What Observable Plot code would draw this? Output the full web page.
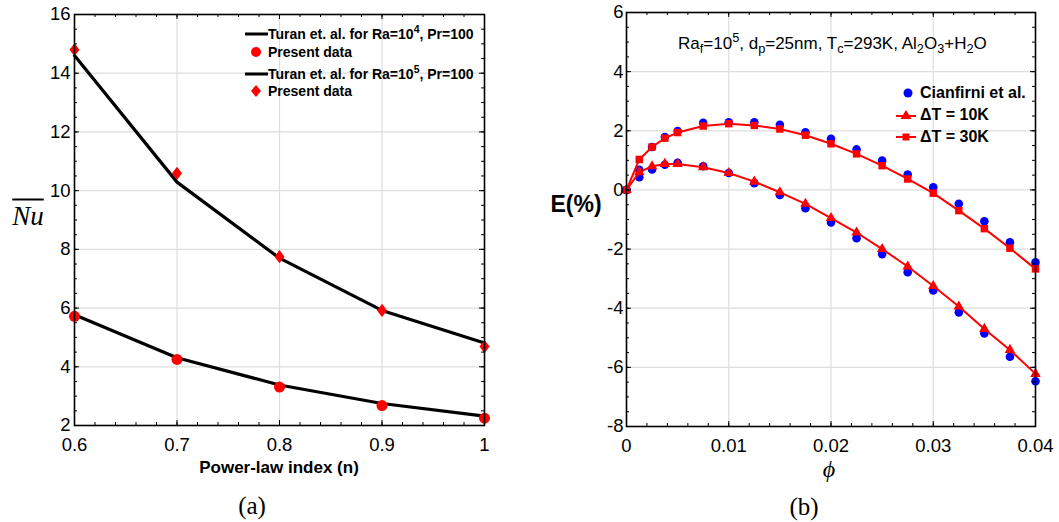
<!DOCTYPE html>
<html>
<head>
<meta charset="utf-8">
<script src="https://cdn.jsdelivr.net/npm/d3@7"></script>
<script src="https://cdn.jsdelivr.net/npm/@observablehq/plot@0.6"></script>
<style>
  html, body { margin: 0; padding: 0; background: #fff; }
  #wrap { position: relative; width: 1059px; height: 522px; overflow: hidden; font-family: 'Liberation Sans', Arial, Helvetica, sans-serif; color: #000; }
  .abs { position: absolute; white-space: nowrap; }
  .vc { transform: translateY(-50%); }
  .cc { transform: translate(-50%, -50%); }
  .leg { display: flex; align-items: center; font-weight: bold; }
  .leg svg { flex: none; }
  sup, sub { font-size: 0.75em; line-height: 0; position: relative; vertical-align: baseline; }
  sup { top: -0.55em; }
  sub { top: 0.35em; }
  .serif { font-family: 'Liberation Serif', 'DejaVu Serif', serif; }
</style>
</head>
<body>
<div id="wrap">
  <div id="pa" class="abs" style="left:0;top:0"></div>
  <div id="pb" class="abs" style="left:530px;top:0"></div>

  <!-- panel (a) labels -->
  <div class="abs cc serif" style="left:28px;top:216px;font-size:27px;font-style:italic;text-decoration:overline;">Nu</div>
  <div class="abs cc" style="left:279px;top:468px;font-size:17px;font-weight:bold;">Power-law index (n)</div>
  <div class="abs cc serif" style="left:252px;top:506px;font-size:25px;">(a)</div>

  <!-- panel (a) legend -->
  <div class="abs vc leg" style="left:245px;top:34px;font-size:14px;"><svg width="23" height="10"><line x1="0" x2="23" y1="5" y2="5" stroke="#000" stroke-width="3"/></svg><span>Turan et. al. for Ra=10<sup>4</sup>, Pr=100</span></div>
  <div class="abs vc leg" style="left:245px;top:52px;font-size:14px;"><svg width="23" height="12"><circle cx="11" cy="6" r="5" fill="#ff0000"/></svg><span>Present data</span></div>
  <div class="abs vc leg" style="left:245px;top:74px;font-size:14px;"><svg width="23" height="10"><line x1="0" x2="23" y1="5" y2="5" stroke="#000" stroke-width="3"/></svg><span>Turan et. al. for Ra=10<sup>5</sup>, Pr=100</span></div>
  <div class="abs vc leg" style="left:245px;top:91px;font-size:14px;"><svg width="23" height="14"><path d="M11,1 L16,7 L11,13 L6,7 Z" fill="#ff0000"/></svg><span>Present data</span></div>

  <!-- panel (b) labels -->
  <div class="abs cc" style="left:576px;top:204px;font-size:23px;font-weight:bold;">E(%)</div>
  <div class="abs cc serif" style="left:829px;top:469px;font-size:24px;font-style:italic;">ϕ</div>
  <div class="abs cc serif" style="left:804px;top:507px;font-size:25px;">(b)</div>
  <div class="abs vc" style="left:678px;top:44px;font-size:17px;">Ra<sub>f</sub>=10<sup>5</sup>, d<sub>p</sub>=25nm, T<sub>c</sub>=293K, Al<sub>2</sub>O<sub>3</sub>+H<sub>2</sub>O</div>

  <!-- panel (b) legend -->
  <div class="abs vc leg" style="left:896px;top:93px;font-size:16px;"><svg width="24" height="12"><circle cx="12" cy="6" r="4.5" fill="#0000ff"/></svg><span>Cianfirni et al.</span></div>
  <div class="abs vc leg" style="left:896px;top:115px;font-size:16px;"><svg width="24" height="14"><line x1="0" x2="20" y1="8" y2="8" stroke="#ff0000" stroke-width="2"/><path d="M10,2 L15.5,11 L4.5,11 Z" fill="#ff0000"/></svg><span>ΔT = 10K</span></div>
  <div class="abs vc leg" style="left:896px;top:137px;font-size:16px;"><svg width="24" height="12"><line x1="0" x2="20" y1="6" y2="6" stroke="#ff0000" stroke-width="2"/><rect x="6.5" y="2.5" width="7" height="7" fill="#ff0000"/></svg><span>ΔT = 30K</span></div>
</div>

<script>
// ---------- Panel (a) data ----------
const powerLawIndex = [0.6, 0.7, 0.8, 0.9, 1.0];
const turanRa4   = [5.77, 4.31, 3.38, 2.75, 2.32];
const presentRa4 = [5.72, 4.25, 3.31, 2.68, 2.25];
const turanRa5   = [14.60, 10.29, 7.70, 5.92, 4.81];
const presentRa5 = [14.80, 10.59, 7.75, 5.92, 4.69];
const xTicksA = [0.6, 0.7, 0.8, 0.9, 1];
const yTicksA = [2, 4, 6, 8, 10, 12, 14, 16];

// ---------- Panel (b) data ----------
const phi = [0, 0.00125, 0.0025, 0.00375, 0.005, 0.0075, 0.01, 0.0125, 0.015, 0.0175,
             0.02, 0.0225, 0.025, 0.0275, 0.03, 0.0325, 0.035, 0.0375, 0.04];
const dT10 = [0, 0.60, 0.80, 0.88, 0.88, 0.77, 0.57, 0.28, -0.08, -0.47,
              -0.95, -1.44, -2.00, -2.59, -3.25, -3.94, -4.70, -5.41, -6.22];
const dT30 = [0, 1.03, 1.45, 1.75, 1.94, 2.16, 2.24, 2.18, 2.06, 1.85,
              1.56, 1.22, 0.82, 0.37, -0.11, -0.70, -1.31, -1.97, -2.67];
const cianfirni10 = [0, 0.43, 0.69, 0.85, 0.92, 0.80, 0.57, 0.23, -0.17, -0.62,
                     -1.10, -1.63, -2.17, -2.78, -3.40, -4.14, -4.85, -5.64, -6.47];
const cianfirni30 = [0, 0.68, 1.45, 1.79, 1.99, 2.27, 2.29, 2.29, 2.20, 1.95,
                     1.73, 1.37, 0.99, 0.52, 0.09, -0.47, -1.06, -1.77, -2.45];
const xTicksB = [0, 0.01, 0.02, 0.03, 0.04];
const yTicksB = [-8, -6, -4, -2, 0, 2, 4, 6];

const FONT = "'Liberation Sans', Arial, Helvetica, sans-serif";
const diamondSymbol = {
  draw(ctx, size) {
    const h = Math.sqrt(size / Math.PI) * 1.1, w = h * 0.76;
    ctx.moveTo(0, -h); ctx.lineTo(w, 0); ctx.lineTo(0, h); ctx.lineTo(-w, 0); ctx.closePath();
  }
};

function boxTicks(xMaj, xMin, yMaj, yMin, innerW, innerH) {
  const M = 5, m = 3, s = {stroke: "#000", strokeWidth: 1};
  return [
    Plot.tickX(xMin, {x: d => d, insetTop: innerH - m, ...s}),
    Plot.tickX(xMin, {x: d => d, insetBottom: innerH - m, ...s}),
    Plot.tickX(xMaj, {x: d => d, insetTop: innerH - M, ...s}),
    Plot.tickX(xMaj, {x: d => d, insetBottom: innerH - M, ...s}),
    Plot.tickY(yMin, {y: d => d, insetRight: innerW - m, ...s}),
    Plot.tickY(yMin, {y: d => d, insetLeft: innerW - m, ...s}),
    Plot.tickY(yMaj, {y: d => d, insetRight: innerW - M, ...s}),
    Plot.tickY(yMaj, {y: d => d, insetLeft: innerW - M, ...s})
  ];
}

// ---------- Plot (a) ----------
{
  const W = 520, H = 470, mL = 74, mR = 36, mT = 14, mB = 45;
  const innerW = W - mL - mR, innerH = H - mT - mB;
  const ra4 = powerLawIndex.map((n, i) => ({n, turan: turanRa4[i], present: presentRa4[i]}));
  const ra5 = powerLawIndex.map((n, i) => ({n, turan: turanRa5[i], present: presentRa5[i]}));
  const xMinor = d3.range(0.6, 1.0001, 0.02);
  const yMinor = d3.range(2, 16.001, 0.5);
  const chart = Plot.plot({
    width: W, height: H, marginLeft: mL, marginRight: mR, marginTop: mT, marginBottom: mB,
    style: {fontFamily: FONT, color: "#000", background: "transparent", overflow: "visible"},
    x: {domain: [0.6, 1], axis: null},
    y: {domain: [2, 16], axis: null},
    marks: [
      Plot.ruleX(xTicksA, {x: d => d, stroke: "#dedede", strokeWidth: 1.2}),
      Plot.ruleY(yTicksA, {y: d => d, stroke: "#dedede", strokeWidth: 1.2}),
      Plot.line(ra4, {x: "n", y: "turan", stroke: "#000", strokeWidth: 3.2}),
      Plot.line(ra5, {x: "n", y: "turan", stroke: "#000", strokeWidth: 3.2}),
      Plot.dot(ra4, {x: "n", y: "present", r: 5.5, fill: "#ff0000", stroke: "none"}),
      Plot.dot(ra5, {x: "n", y: "present", r: 6, symbol: diamondSymbol, fill: "#ff0000", stroke: "none"}),
      ...boxTicks(xTicksA, xMinor, yTicksA, yMinor, innerW, innerH),
      Plot.frame({stroke: "#000", strokeWidth: 1.6}),
      Plot.axisX(xTicksA, {tickSize: 0, tickPadding: 12, fontSize: 18.5, label: null, tickFormat: d => String(d)}),
      Plot.axisY(yTicksA, {tickSize: 0, tickPadding: 4, fontSize: 18.5, label: null, tickFormat: d => String(d)})
    ]
  });
  document.getElementById("pa").appendChild(chart);
}

// ---------- Plot (b) ----------
{
  const W = 529, H = 470, mL = 96, mR = 24, mT = 12, mB = 44;
  const innerW = W - mL - mR, innerH = H - mT - mB;
  const rows = phi.map((p, i) => ({phi: p, dT10: dT10[i], dT30: dT30[i], c10: cianfirni10[i], c30: cianfirni30[i]}));
  const xMinor = d3.range(0, 0.04001, 0.002);
  const yMinor = d3.range(-8, 6.001, 0.5);
  const chart = Plot.plot({
    width: W, height: H, marginLeft: mL, marginRight: mR, marginTop: mT, marginBottom: mB,
    style: {fontFamily: FONT, color: "#000", background: "transparent", overflow: "visible"},
    x: {domain: [0, 0.04], axis: null},
    y: {domain: [-8, 6], axis: null},
    marks: [
      Plot.ruleX(xTicksB, {x: d => d, stroke: "#dedede", strokeWidth: 1.2}),
      Plot.ruleY(yTicksB, {y: d => d, stroke: "#dedede", strokeWidth: 1.2}),
      Plot.dot(rows, {x: "phi", y: "c30", r: 4.3, fill: "#0000ff", stroke: "none"}),
      Plot.dot(rows, {x: "phi", y: "c10", r: 4.3, fill: "#0000ff", stroke: "none"}),
      Plot.line(rows, {x: "phi", y: "dT30", stroke: "#ff0000", strokeWidth: 2}),
      Plot.line(rows, {x: "phi", y: "dT10", stroke: "#ff0000", strokeWidth: 2}),
      Plot.dot(rows, {x: "phi", y: "dT30", r: 4.2, symbol: "square", fill: "#ff0000", stroke: "none"}),
      Plot.dot(rows, {x: "phi", y: "dT10", r: 3.9, symbol: "triangle", fill: "#ff0000", stroke: "none"}),
      ...boxTicks(xTicksB, xMinor, yTicksB, yMinor, innerW, innerH),
      Plot.frame({stroke: "#000", strokeWidth: 1.6}),
      Plot.axisX(xTicksB, {tickSize: 0, tickPadding: 12, fontSize: 18.5, label: null, tickFormat: d => String(d)}),
      Plot.axisY(yTicksB, {tickSize: 0, tickPadding: 3, fontSize: 18.5, label: null, tickFormat: d => String(d)})
    ]
  });
  document.getElementById("pb").appendChild(chart);
}
</script>
</body>
</html>
